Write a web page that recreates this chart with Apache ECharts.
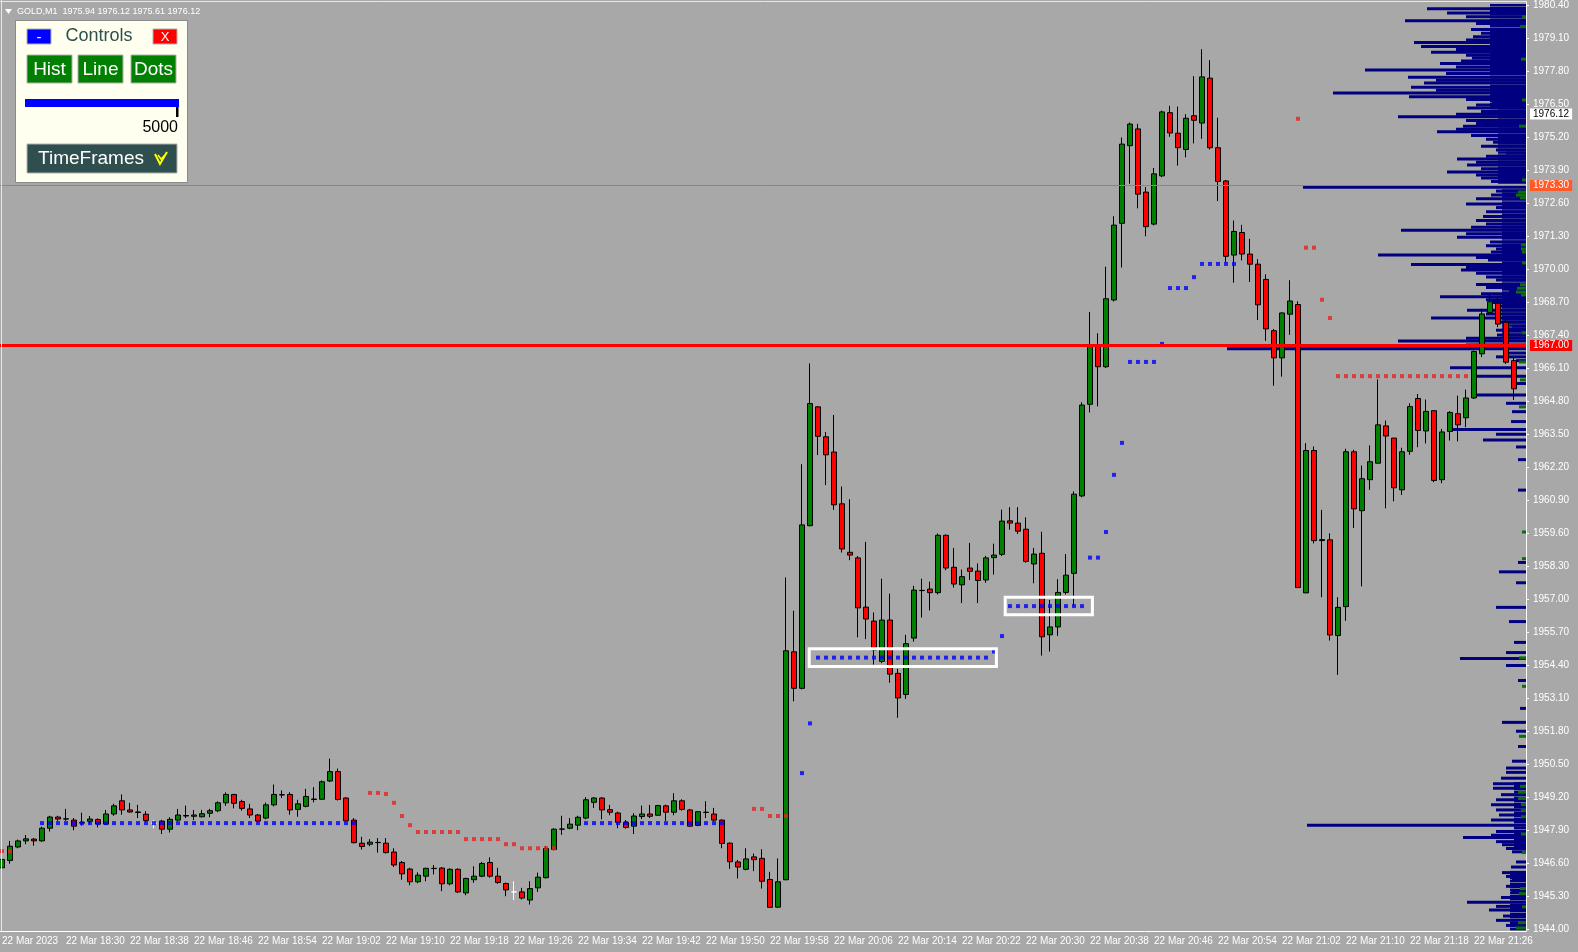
<!DOCTYPE html>
<html>
<head>
<meta charset="utf-8">
<script src="https://cdn.jsdelivr.net/npm/echarts@6/dist/echarts.min.js"></script>
<style>
  html, body { margin: 0; padding: 0; background: #a8a8a8; }
  #chart { width: 1578px; height: 952px; }
</style>
</head>
<body>
<div id="chart"></div>
<script>
// GOLD M1, 22 Mar 2023, first bar 18:22
const startMinute = 18 * 60 + 22;
const barCount = 191; // 190 bars + one empty slot at the right edge

const openP = [
  1946.42, 1946.71, 1947.24, 1947.48, 1947.55, 1947.48, 1947.98, 1948.42, 1948.34, 1948.30,
  1948.18, 1948.25, 1948.32, 1948.14, 1948.54, 1949.06, 1948.70, 1948.62, 1948.53, 1948.18,
  1948.26, 1947.94, 1948.30, 1948.46, 1948.45, 1948.43, 1948.57, 1948.67, 1948.98, 1949.31,
  1949.03, 1948.74, 1948.50, 1948.38, 1948.90, 1949.30, 1949.31, 1948.72, 1948.84, 1949.11,
  1949.12, 1949.84, 1950.21, 1949.17, 1948.30, 1947.39, 1947.35, 1947.42, 1947.39, 1947.04,
  1946.63, 1946.37, 1945.87, 1946.09, 1946.39, 1946.41, 1945.79, 1946.36, 1945.43, 1945.95,
  1946.09, 1946.63, 1946.09, 1945.80, 1945.47, 1945.47, 1945.15, 1945.63, 1946.03, 1947.14,
  1947.94, 1947.98, 1948.10, 1948.38, 1949.00, 1949.17, 1948.71, 1948.58, 1948.21, 1948.06,
  1948.44, 1948.54, 1948.49, 1948.86, 1948.61, 1949.06, 1948.70, 1948.09, 1948.61, 1948.54,
  1948.30, 1947.39, 1946.65, 1946.36, 1946.85, 1946.79, 1945.96, 1944.87, 1945.95, 1954.93,
  1953.49, 1959.90, 1964.58, 1963.40, 1962.80, 1960.76, 1958.85, 1958.63, 1956.69, 1956.14,
  1954.55, 1956.18, 1954.08, 1953.25, 1955.47, 1957.34, 1957.40, 1957.26, 1959.52, 1958.26,
  1957.57, 1958.23, 1958.11, 1957.76, 1958.64, 1958.77, 1960.09, 1960.00, 1959.76, 1958.39,
  1958.81, 1955.60, 1955.91, 1957.27, 1958.02, 1961.07, 1964.68, 1966.98, 1966.16, 1968.79,
  1971.81, 1974.87, 1975.53, 1973.04, 1971.78, 1973.68, 1976.17, 1975.36, 1974.72, 1976.05,
  1975.76, 1977.53, 1974.79, 1973.48, 1970.56, 1971.45, 1970.60, 1970.20, 1969.60, 1967.58,
  1966.51, 1968.23, 1968.61, 1957.25, 1962.86, 1959.31, 1959.34, 1955.57, 1956.71, 1962.81,
  1960.49, 1961.71, 1962.36, 1963.83, 1963.35, 1961.31, 1962.83, 1964.91, 1963.63, 1964.43,
  1961.71, 1963.61, 1964.31, 1964.15, 1964.93, 1966.67, 1968.30, 1968.66, 1967.91, 1966.40
];
const closeP = [
  1946.75, 1947.27, 1947.48, 1947.56, 1947.48, 1947.98, 1948.42, 1948.34, 1948.35, 1948.06,
  1948.20, 1948.34, 1948.14, 1948.54, 1948.86, 1948.70, 1948.62, 1948.60, 1948.28, 1948.18,
  1947.94, 1948.33, 1948.50, 1948.48, 1948.50, 1948.55, 1948.67, 1948.98, 1949.31, 1948.96,
  1948.76, 1948.50, 1948.26, 1948.90, 1949.31, 1949.29, 1948.70, 1948.94, 1949.23, 1949.13,
  1949.81, 1950.21, 1949.11, 1948.27, 1947.41, 1947.26, 1947.43, 1947.41, 1947.02, 1946.53,
  1946.18, 1945.87, 1946.13, 1946.40, 1946.40, 1945.79, 1946.36, 1945.47, 1946.00, 1946.09,
  1946.59, 1946.09, 1945.84, 1945.55, 1945.47, 1945.23, 1945.60, 1946.05, 1947.18, 1947.94,
  1947.95, 1948.14, 1948.41, 1949.10, 1949.17, 1948.70, 1948.61, 1948.21, 1948.01, 1948.46,
  1948.54, 1948.45, 1948.87, 1948.61, 1949.06, 1948.72, 1948.06, 1948.63, 1948.60, 1948.30,
  1947.38, 1946.66, 1946.45, 1946.77, 1946.74, 1945.89, 1944.86, 1945.87, 1954.97, 1953.49,
  1959.93, 1964.71, 1963.42, 1962.69, 1960.72, 1958.98, 1958.74, 1956.66, 1956.22, 1955.00,
  1956.18, 1954.05, 1953.11, 1955.25, 1957.36, 1957.35, 1957.26, 1959.52, 1958.23, 1957.60,
  1957.89, 1958.10, 1957.74, 1958.63, 1958.74, 1960.08, 1960.00, 1959.68, 1958.49, 1958.78,
  1955.52, 1955.91, 1957.27, 1957.95, 1961.14, 1964.65, 1967.01, 1966.16, 1968.84, 1971.74,
  1974.93, 1975.72, 1972.96, 1971.68, 1973.76, 1976.20, 1975.37, 1974.79, 1975.95, 1975.87,
  1977.58, 1974.79, 1973.46, 1970.51, 1971.49, 1970.60, 1970.20, 1968.60, 1967.65, 1966.51,
  1968.28, 1968.75, 1957.46, 1962.86, 1959.31, 1959.35, 1955.59, 1956.68, 1962.81, 1960.56,
  1961.75, 1962.42, 1963.87, 1963.43, 1961.39, 1962.81, 1964.59, 1963.65, 1964.40, 1961.68,
  1963.59, 1964.36, 1963.87, 1964.93, 1966.76, 1968.24, 1968.72, 1967.84, 1966.34, 1965.29
];
const lowP = [
  1946.36, 1946.58, 1947.19, 1947.35, 1947.29, 1947.45, 1947.85, 1948.27, 1948.27, 1947.90,
  1948.08, 1948.14, 1948.01, 1948.12, 1948.47, 1948.51, 1948.59, 1948.38, 1948.23, 1947.98,
  1947.75, 1947.81, 1948.27, 1948.38, 1948.30, 1948.41, 1948.41, 1948.61, 1948.86, 1948.76,
  1948.67, 1948.38, 1948.21, 1948.33, 1948.84, 1949.17, 1948.51, 1948.43, 1948.80, 1949.00,
  1949.09, 1949.80, 1949.07, 1948.25, 1947.38, 1947.14, 1947.27, 1947.02, 1946.98, 1946.45,
  1945.95, 1945.73, 1945.81, 1945.89, 1946.16, 1945.50, 1945.73, 1945.43, 1945.34, 1945.83,
  1946.05, 1946.03, 1945.79, 1945.30, 1945.15, 1945.17, 1944.97, 1945.47, 1946.00, 1947.11,
  1947.72, 1947.94, 1947.90, 1948.33, 1948.78, 1948.33, 1948.49, 1947.98, 1947.96, 1947.75,
  1948.34, 1948.38, 1948.46, 1948.27, 1948.49, 1948.67, 1948.04, 1948.06, 1948.38, 1948.25,
  1947.19, 1946.38, 1946.00, 1946.32, 1946.29, 1945.60, 1944.84, 1944.84, 1945.93, 1952.98,
  1953.45, 1959.87, 1962.68, 1961.50, 1960.52, 1958.84, 1958.54, 1955.50, 1955.43, 1954.43,
  1954.48, 1953.71, 1952.33, 1953.07, 1955.33, 1956.28, 1956.56, 1957.19, 1958.14, 1957.46,
  1956.85, 1957.76, 1956.85, 1957.65, 1957.97, 1958.70, 1959.74, 1959.57, 1958.44, 1957.63,
  1954.78, 1954.94, 1955.56, 1957.19, 1956.73, 1961.02, 1964.36, 1964.60, 1966.11, 1968.73,
  1970.07, 1973.37, 1972.40, 1971.30, 1971.73, 1973.63, 1975.22, 1974.08, 1974.41, 1974.96,
  1975.14, 1974.72, 1972.69, 1970.28, 1969.47, 1970.35, 1969.50, 1968.00, 1967.18, 1965.41,
  1965.77, 1967.42, 1957.46, 1957.25, 1959.20, 1957.08, 1955.37, 1954.02, 1956.15, 1959.81,
  1957.51, 1961.31, 1962.36, 1960.58, 1960.86, 1961.11, 1962.69, 1962.99, 1963.14, 1961.61,
  1961.57, 1963.25, 1963.22, 1963.78, 1964.89, 1966.54, 1968.24, 1967.72, 1966.27, 1964.85
];
const highP = [
  1946.83, 1947.48, 1947.53, 1947.71, 1947.59, 1948.04, 1948.47, 1948.47, 1948.74, 1948.38,
  1948.59, 1948.46, 1948.37, 1948.70, 1948.94, 1949.31, 1948.98, 1948.90, 1948.65, 1948.30,
  1948.31, 1948.41, 1948.74, 1948.87, 1948.70, 1948.70, 1948.74, 1949.04, 1949.39, 1949.33,
  1949.10, 1948.94, 1948.54, 1948.99, 1949.70, 1949.47, 1949.40, 1949.10, 1949.53, 1949.60,
  1949.86, 1950.72, 1950.33, 1949.20, 1948.38, 1947.64, 1947.55, 1947.59, 1947.59, 1947.19,
  1946.69, 1946.42, 1946.24, 1946.42, 1946.53, 1946.45, 1946.40, 1946.40, 1946.03, 1946.48,
  1946.65, 1946.83, 1946.42, 1945.84, 1945.89, 1945.63, 1945.89, 1946.23, 1947.28, 1947.98,
  1948.47, 1948.38, 1948.47, 1949.20, 1949.20, 1949.20, 1948.90, 1948.63, 1948.30, 1948.57,
  1948.87, 1948.90, 1948.90, 1948.91, 1949.36, 1949.12, 1948.74, 1948.64, 1949.04, 1948.78,
  1948.33, 1947.42, 1946.73, 1947.19, 1946.98, 1947.15, 1946.26, 1946.79, 1957.86, 1956.55,
  1962.32, 1966.29, 1964.61, 1963.59, 1964.26, 1961.44, 1960.94, 1958.70, 1959.26, 1956.48,
  1957.81, 1957.22, 1954.26, 1955.60, 1957.53, 1957.81, 1957.69, 1959.59, 1959.55, 1959.02,
  1958.17, 1959.22, 1958.41, 1958.71, 1959.19, 1960.53, 1960.63, 1960.63, 1960.23, 1959.02,
  1959.66, 1956.97, 1957.79, 1958.78, 1961.25, 1964.76, 1968.32, 1967.48, 1970.10, 1972.09,
  1975.19, 1975.78, 1975.73, 1973.24, 1973.99, 1976.25, 1976.44, 1976.41, 1976.11, 1977.61,
  1978.67, 1978.24, 1975.97, 1973.52, 1971.92, 1971.75, 1971.20, 1970.40, 1969.80, 1967.65,
  1968.30, 1969.57, 1968.74, 1963.15, 1963.02, 1960.52, 1959.60, 1957.08, 1962.93, 1962.89,
  1962.27, 1963.06, 1965.66, 1964.04, 1963.35, 1962.97, 1964.72, 1965.09, 1964.87, 1964.43,
  1963.71, 1964.41, 1965.02, 1965.26, 1966.80, 1968.44, 1969.00, 1968.90, 1968.00, 1966.51
];
// bars drawn as white crosses on the chart
const whiteBars = [19, 64];

// right price scale
const priceTicks = [
  1944.00, 1945.30, 1946.60, 1947.90, 1949.20, 1950.50, 1951.80, 1953.10, 1954.40, 1955.70,
  1957.00, 1958.30, 1959.60, 1960.90, 1962.20, 1963.50, 1964.80, 1966.10, 1967.40, 1968.70,
  1970.00, 1971.30, 1972.60, 1973.90, 1975.20, 1976.50, 1977.80, 1979.10, 1980.40
];

// horizontal levels
const orangeLevel = 1973.30;
const redLevel = 1967.00;
const bidPrice = 1976.12;

// indicator dots: one per bar from start to end index at a price
const blueSegStart = [5, 73, 100, 101, 102, 124, 125, 126, 136, 138, 139, 140, 141, 145, 146, 149, 150];
const blueSegEnd   = [44, 90, 100, 101, 123, 124, 125, 135, 137, 138, 139, 140, 144, 145, 148, 149, 154];
const blueSegPrice = [1948.18, 1948.18, 1950.15, 1952.11, 1954.70, 1954.94, 1955.55, 1956.73, 1958.64,
  1959.65, 1961.90, 1963.16, 1966.35, 1967.06, 1969.26, 1969.69, 1970.21];
const redSegStart = [0, 46, 48, 49, 50, 51, 52, 58, 63, 65, 94, 96, 162, 163, 165, 166, 167];
const redSegEnd   = [1, 47, 48, 49, 50, 51, 57, 62, 64, 69, 95, 98, 162, 164, 165, 166, 183];
const redSegPrice = [1947.08, 1949.37, 1949.33, 1948.98, 1948.46, 1948.10, 1947.83, 1947.55, 1947.35,
  1947.19, 1948.74, 1948.46, 1975.93, 1970.85, 1968.80, 1968.08, 1965.79];

// white rectangles (bar index range, price range)
const boxFrom = [100.9, 125.4];
const boxTo = [124.3, 136.3];
const boxTop = [1955.05, 1957.08];
const boxBottom = [1954.35, 1956.39];

// volume profile on the right (price level, volume)
const histPrice = [
  1980.26, 1980.10, 1979.95, 1979.79, 1979.68, 1979.45, 1979.30, 1979.16, 1979.03, 1978.93,
  1978.78, 1978.66, 1978.55, 1978.43, 1978.32, 1978.21, 1978.11, 1977.97, 1977.85, 1977.71,
  1977.57, 1977.45, 1977.34, 1977.17, 1977.05, 1976.94, 1976.80, 1976.69, 1976.59, 1976.47,
  1976.35, 1976.22, 1976.11, 1976.01, 1975.86, 1975.74, 1975.63, 1975.52, 1975.42, 1975.27,
  1975.12, 1975.00, 1974.85, 1974.70, 1974.58, 1974.45, 1974.34, 1974.22, 1974.11, 1973.96,
  1973.83, 1973.71, 1973.60, 1973.46, 1973.23, 1973.08, 1972.93, 1972.78, 1972.57, 1972.43,
  1972.27, 1972.08, 1971.92, 1971.78, 1971.66, 1971.54, 1971.40, 1971.26, 1971.07, 1970.93,
  1970.80, 1970.68, 1970.56, 1970.46, 1970.37, 1970.19, 1970.07, 1969.97, 1969.84, 1969.70,
  1969.58, 1969.40, 1969.28, 1969.16, 1969.04, 1968.92, 1968.80, 1968.69, 1968.55, 1968.39,
  1968.24, 1968.08, 1967.92, 1967.76, 1967.60, 1967.41, 1967.28, 1967.17, 1967.02, 1966.87,
  1966.70, 1966.55, 1966.40, 1966.12, 1965.79, 1965.50, 1965.05, 1964.72, 1964.39, 1964.00,
  1963.69, 1963.50, 1963.27, 1963.00, 1962.50, 1961.30, 1958.45, 1958.08, 1957.65, 1956.68,
  1956.12, 1955.30, 1954.90, 1954.67, 1954.39, 1953.80, 1952.70, 1952.15, 1951.80, 1951.20,
  1950.62, 1950.35, 1950.18, 1949.95, 1949.73, 1949.55, 1949.30, 1949.10, 1948.90, 1948.70,
  1948.50, 1948.30, 1948.10, 1947.85, 1947.70, 1947.61, 1947.45, 1947.33, 1947.18, 1947.05,
  1946.65, 1946.45, 1946.23, 1946.08, 1945.92, 1945.69, 1945.45, 1945.25, 1945.06, 1944.90,
  1944.76, 1944.52, 1944.35, 1944.15
];
const histVol = [
  99, 79, 60, 121, 50, 55, 45, 53, 60, 112,
  105, 70, 95, 60, 54, 65, 86, 70, 161, 80,
  118, 90, 102, 115, 90, 193, 117, 60, 34, 50,
  59, 45, 70, 128, 60, 50, 63, 70, 89, 55,
  40, 33, 45, 30, 20, 40, 69, 50, 59, 45,
  79, 50, 45, 35, 223, 30, 35, 50, 60, 30,
  40, 43, 50, 40, 55, 125, 60, 69, 36, 40,
  30, 35, 148, 50, 38, 115, 60, 65, 50, 40,
  30, 50, 40, 17, 45, 86, 40, 34, 30, 59,
  40, 95, 30, 14, 30, 29, 60, 128, 60, 299,
  20, 30, 10, 76, 55, 12, 54, 20, 14, 15,
  73, 30, 43, 10, 8, 8, 8, 27, 10, 30,
  17, 12, 20, 66, 20, 8, 6, 24, 10, 8,
  14, 20, 20, 25, 33, 33, 25, 30, 35, 30,
  27, 35, 219, 30, 35, 63, 30, 24, 20, 14,
  10, 15, 24, 20, 14, 20, 15, 25, 59, 30,
  37, 23, 30, 20
];
// dense base of the profile (from price, to price, volume)
const bandFrom = [1976.30, 1973.35, 1967.30, 1947.20, 1943.93];
const bandTo = [1980.45, 1976.30, 1973.15, 1949.80, 1946.30];
const bandVol = [36, 28, 24, 12, 16];
// green part of the profile
const greenPrice = [
  1979.95, 1979.56, 1978.28, 1976.67, 1975.64, 1973.52, 1973.04, 1972.92, 1972.81, 1970.96,
  1970.80, 1970.68, 1970.25, 1969.39, 1969.25, 1969.10, 1968.99, 1967.50, 1966.35, 1965.64,
  1964.58, 1959.65, 1958.60, 1954.69, 1953.57, 1951.60, 1949.63, 1949.40, 1949.15, 1948.91,
  1948.67, 1948.43, 1947.75, 1947.02, 1945.60, 1945.40, 1944.88, 1944.26, 1944.05
];
const greenVol = [
  4, 6, 5, 4, 7, 4, 8, 10, 6, 5,
  5, 4, 4, 6, 9, 10, 5, 4, 7, 6,
  7, 4, 4, 7, 4, 7, 6, 8, 8, 5,
  5, 5, 5, 4, 6, 7, 4, 8, 10
];

const times = [];
for (let i = 0; i < barCount; i++) {
  const m = startMinute + i;
  times.push(String(Math.floor(m / 60)).padStart(2, '0') + ':' + String(m % 60).padStart(2, '0'));
}

const candles = openP.map((o, i) => {
  const v = [o, closeP[i], lowP[i], highP[i]];
  if (whiteBars.includes(i)) {
    return { value: v, itemStyle: { borderColor: '#fff', borderColor0: '#fff', borderColorDoji: '#fff' } };
  }
  return v;
});

function expandSegs(starts, ends, prices) {
  const pts = [];
  starts.forEach((s, k) => {
    for (let i = s; i <= ends[k]; i++) pts.push([i, prices[k]]);
  });
  return pts;
}

const chart = echarts.init(document.getElementById('chart'));

const font = 'Liberation Sans';

const option = {
  animation: false,
  backgroundColor: '#a8a8a8',
  grid: { left: -2, right: 52, top: 2, bottom: 21, containLabel: false, outerBoundsMode: 'none' },
  xAxis: [
    {
      type: 'category',
      data: times,
      boundaryGap: true,
      axisLine: { lineStyle: { color: '#ffffff', width: 1 } },
      axisTick: { interval: 7, alignWithLabel: true, length: 4, lineStyle: { color: '#ffffff' } },
      axisLabel: {
        interval: 7, color: '#ffffff', fontSize: 10, fontFamily: font, align: 'left', margin: 5,
        formatter: (v, i) => i === 0 ? '22 Mar 2023' : '22 Mar ' + v
      },
      splitLine: { show: false }
    },
    { type: 'value', min: 0, max: 1528, inverse: true, show: false }
  ],
  yAxis: {
    type: 'value',
    position: 'right',
    min: 1943.93,
    max: 1980.53,
    axisLine: { show: true, lineStyle: { color: '#ffffff' } },
    axisTick: { show: true, customValues: priceTicks, length: 3, lineStyle: { color: '#ffffff' } },
    axisLabel: {
      customValues: priceTicks, color: '#ffffff', fontSize: 10, fontFamily: font, margin: 7,
      formatter: v => v.toFixed(2)
    },
    splitLine: { show: false }
  },
  series: [
    {
      type: 'candlestick',
      data: candles,
      barWidth: 5,
      z: 3,
      itemStyle: {
        color: '#008000', color0: '#ff0000',
        borderColor: '#000000', borderColor0: '#000000', borderColorDoji: '#000000', borderWidth: 1
      },
      markLine: {
        silent: true,
        symbol: 'none',
        animation: false,
        label: {
          show: true, position: 'end', distance: 4, fontSize: 10, fontFamily: font,
          padding: [1, 3, 0, 3], formatter: p => p.value.toFixed(2)
        },
        data: [
          { yAxis: orangeLevel, lineStyle: { color: '#ff5a28', width: 1, type: 'solid' },
            label: { backgroundColor: '#ff5a28', color: '#ffffff' } },
          { yAxis: redLevel, lineStyle: { color: '#ff0000', width: 3, type: 'solid' },
            label: { backgroundColor: '#ff0000', color: '#ffffff' } },
          { yAxis: bidPrice, lineStyle: { color: 'rgba(0,0,0,0)', width: 0 },
            label: { backgroundColor: '#ffffff', color: '#000000' } }
        ]
      }
    },
    {
      // dense base of the profile, drawn as stacked thin bars
      type: 'custom',
      xAxisIndex: 1,
      z: 1,
      data: bandVol.map((v, i) => [v, bandFrom[i], bandTo[i]]),
      encode: { x: 0, y: [1, 2] },
      renderItem: (params, api) => {
        const a = api.coord([api.value(0), api.value(2)]);
        const b = api.coord([0, api.value(1)]);
        const children = [];
        for (let y = a[1]; y < b[1]; y += 3) {
          children.push({ type: 'rect', shape: { x: a[0], y: y, width: b[0] - a[0], height: Math.min(2.4, b[1] - y) },
            style: { fill: '#000080' } });
        }
        return { type: 'group', children: children };
      }
    },
    {
      type: 'custom',
      xAxisIndex: 1,
      z: 1,
      data: histVol.map((v, i) => [v, histPrice[i]]),
      encode: { x: 0, y: 1 },
      renderItem: (params, api) => {
        const r = api.coord([0, api.value(1)]);
        const l = api.coord([api.value(0), api.value(1)]);
        return { type: 'rect', shape: { x: l[0], y: r[1] - 1.5, width: r[0] - l[0], height: 3 },
          style: { fill: '#000080' } };
      }
    },
    {
      type: 'custom',
      xAxisIndex: 1,
      z: 2,
      data: greenVol.map((v, i) => [v, greenPrice[i]]),
      encode: { x: 0, y: 1 },
      renderItem: (params, api) => {
        const r = api.coord([0, api.value(1)]);
        const l = api.coord([api.value(0), api.value(1)]);
        return { type: 'rect', shape: { x: l[0], y: r[1] - 1.5, width: r[0] - l[0], height: 3 },
          style: { fill: '#0a6e0a' } };
      }
    },
    {
      type: 'scatter',
      z: 4,
      symbol: 'rect',
      symbolSize: 4,
      itemStyle: { color: '#0000ff' },
      data: expandSegs(blueSegStart, blueSegEnd, blueSegPrice)
    },
    {
      type: 'scatter',
      z: 4,
      symbol: 'rect',
      symbolSize: 4,
      itemStyle: { color: '#e8211f' },
      data: expandSegs(redSegStart, redSegEnd, redSegPrice)
    }
  ]
};

chart.setOption(option);

// pixel position of a (fractional) bar index and price
function toPx(i, price) {
  const i0 = Math.floor(i);
  const a = chart.convertToPixel({ seriesIndex: 0 }, [i0, price]);
  const b = chart.convertToPixel({ seriesIndex: 0 }, [i0 + 1, price]);
  return [a[0] + (b[0] - a[0]) * (i - i0), a[1]];
}

const graphics = [];

// chart frame
graphics.push({ type: 'line', silent: true, z: 10, shape: { x1: 0, y1: 1.5, x2: 1527, y2: 1.5 },
  style: { stroke: '#e8e8e8', lineWidth: 1 } });
graphics.push({ type: 'line', silent: true, z: 10, shape: { x1: 1.5, y1: 0, x2: 1.5, y2: 931 },
  style: { stroke: '#e8e8e8', lineWidth: 1 } });

// white boxes
boxFrom.forEach((f, k) => {
  const p1 = toPx(f, boxTop[k]);
  const p2 = toPx(boxTo[k], boxBottom[k]);
  graphics.push({
    type: 'rect', silent: true, z: 20,
    shape: { x: p1[0], y: p1[1], width: p2[0] - p1[0], height: p2[1] - p1[1] },
    style: { fill: null, stroke: '#ffffff', lineWidth: 3 }
  });
});

// symbol header
graphics.push({ type: 'polygon', silent: true, z: 30, shape: { points: [[5, 9], [12, 9], [8.5, 14]] },
  style: { fill: '#ffffff' } });
graphics.push({ type: 'text', silent: true, z: 30, x: 17, y: 12,
  style: { text: 'GOLD,M1  1975.94 1976.12 1975.61 1976.12', fill: '#ffffff', font: '9px "' + font + '"',
    align: 'left', verticalAlign: 'middle' } });

// controls panel
function btn(x, y, w, h, fill, label, size, color) {
  graphics.push({ type: 'rect', silent: true, z: 31, shape: { x: x, y: y, width: w, height: h },
    style: { fill: fill, stroke: '#b0b0b0', lineWidth: 1 } });
  graphics.push({ type: 'text', silent: true, z: 32, x: x + w / 2, y: y + h / 2 + 1,
    style: { text: label, fill: color || '#ffffff', font: size + 'px "' + font + '"',
      align: 'center', verticalAlign: 'middle' } });
}
graphics.push({ type: 'rect', silent: true, z: 30, shape: { x: 15.5, y: 20.5, width: 172, height: 162 },
  style: { fill: '#fffff0', stroke: '#8a8a8a', lineWidth: 1 } });
btn(27, 29, 24, 15, '#0000ff', '-', 15);
graphics.push({ type: 'text', silent: true, z: 32, x: 99, y: 36,
  style: { text: 'Controls', fill: '#2f4f4f', font: '18px "' + font + '"', align: 'center', verticalAlign: 'middle' } });
btn(153, 29, 24, 15, '#ff0000', 'X', 13);
btn(27, 55, 45, 28, '#007f00', 'Hist', 19);
btn(78, 55, 45, 28, '#007f00', 'Line', 19);
btn(131, 55, 45, 28, '#007f00', 'Dots', 19);
graphics.push({ type: 'rect', silent: true, z: 31, shape: { x: 25, y: 99, width: 154, height: 8 },
  style: { fill: '#0000ff' } });
graphics.push({ type: 'rect', silent: true, z: 31, shape: { x: 176, y: 107, width: 2.5, height: 10 },
  style: { fill: '#000000' } });
graphics.push({ type: 'text', silent: true, z: 32, x: 178, y: 128,
  style: { text: '5000', fill: '#000000', font: '16px "' + font + '"', align: 'right', verticalAlign: 'middle' } });
graphics.push({ type: 'rect', silent: true, z: 31, shape: { x: 27, y: 144, width: 150, height: 29 },
  style: { fill: '#2f4f4f', stroke: '#b0b0b0', lineWidth: 1 } });
graphics.push({ type: 'text', silent: true, z: 32, x: 91, y: 159,
  style: { text: 'TimeFrames', fill: '#ffffff', font: '19px "' + font + '"', align: 'center', verticalAlign: 'middle' } });
graphics.push({ type: 'polyline', silent: true, z: 32, shape: { points: [[155, 154], [160, 164], [167, 152]] },
  style: { stroke: '#ffff00', lineWidth: 2, fill: null } });
graphics.push({ type: 'polyline', silent: true, z: 32, shape: { points: [[158, 155], [161, 159], [165, 155]] },
  style: { stroke: '#ffff00', lineWidth: 1.5, fill: null } });

chart.setOption({ graphic: graphics });
</script>
</body>
</html>
